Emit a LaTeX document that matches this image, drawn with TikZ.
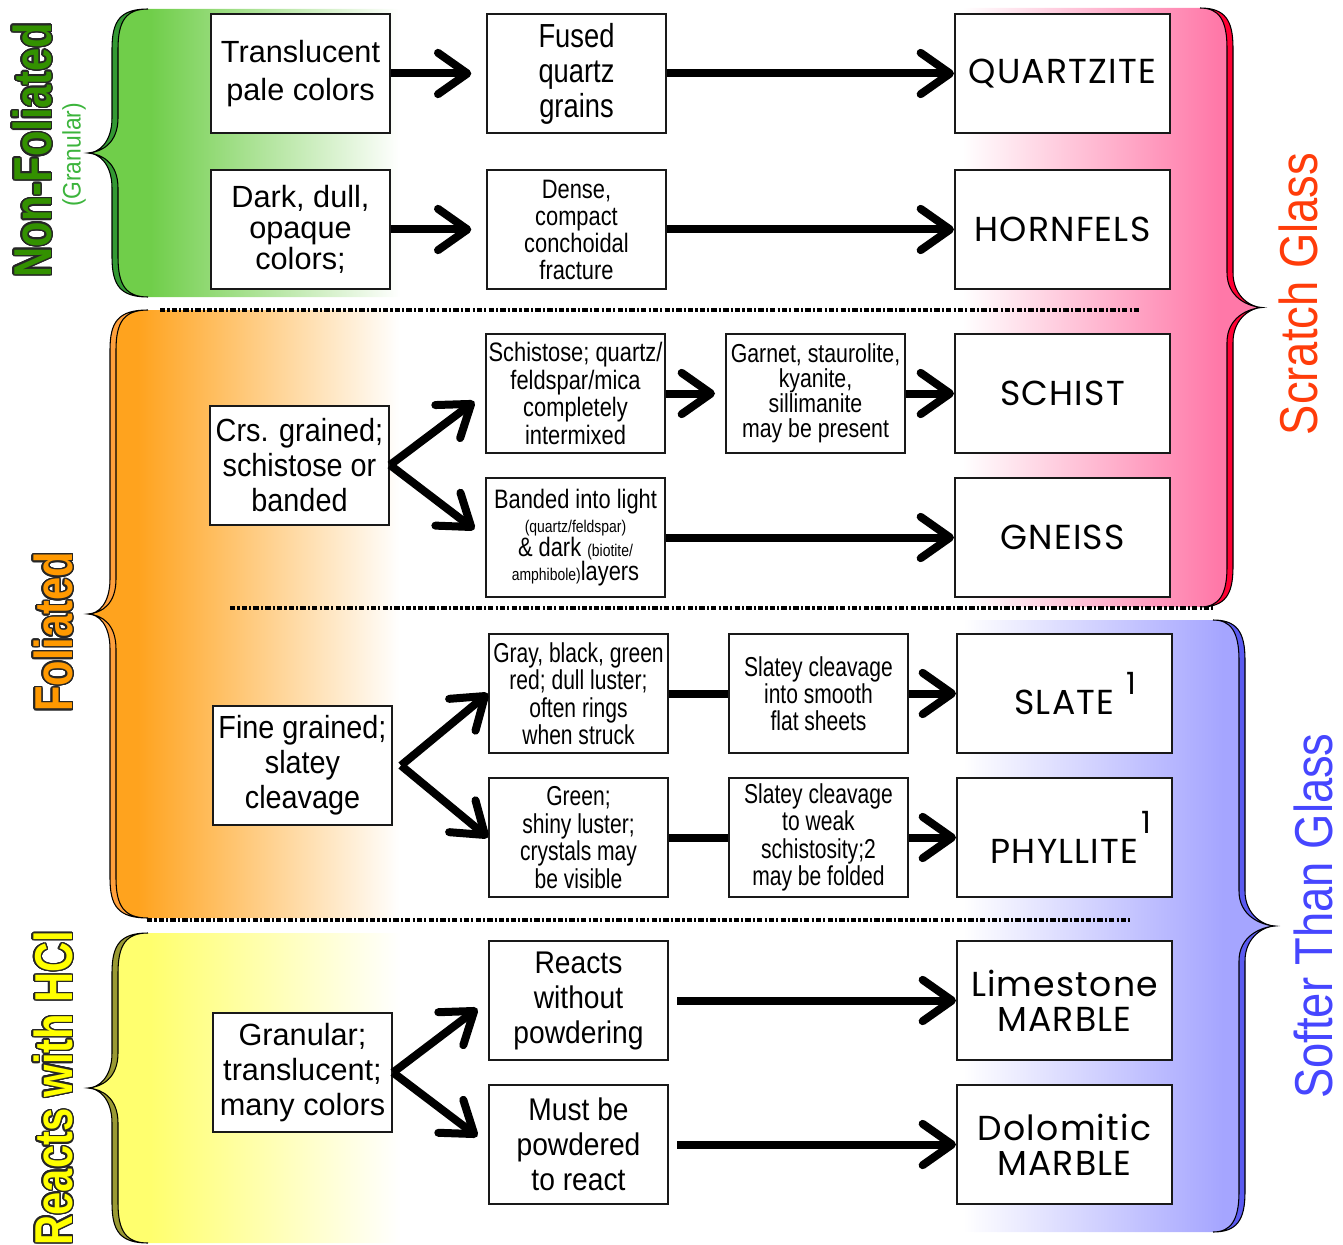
\documentclass[tikz,border=0pt]{standalone}
\usepackage{fontspec}
\setmainfont{Liberation Sans}
\newfontfamily\fA{Liberation Sans}
\newfontfamily\fB[FakeStretch=0.9]{Liberation Sans}
\newfontfamily\fC[FakeStretch=0.82]{Liberation Sans}
\newfontfamily\fD[FakeStretch=0.77]{Liberation Sans}
\newfontfamily\fG[FakeStretch=0.85]{Liberation Sans}
\newfontfamily\fL[FakeStretch=0.78]{Liberation Sans}
\newfontfamily\rockfont[LetterSpace=3.5]{Poppins}
\usepackage{contour}
\contourlength{1.1pt}
\contournumber{24}
\usetikzlibrary{arrows.meta}

\definecolor{gband}{RGB}{112,206,74}
\definecolor{gbrace}{RGB}{51,153,51}
\definecolor{oband}{RGB}{255,163,30}
\definecolor{obrace}{RGB}{255,160,60}
\definecolor{yband}{RGB}{255,255,110}
\definecolor{ybrace}{RGB}{153,153,51}
\definecolor{pband}{RGB}{255,120,168}
\definecolor{pbrace}{RGB}{255,0,51}
\definecolor{bband}{RGB}{165,165,255}
\definecolor{bbrace}{RGB}{90,90,240}
\definecolor{nftext}{RGB}{51,145,0}
\definecolor{grtext}{RGB}{60,180,60}
\definecolor{fotext}{RGB}{255,153,0}
\definecolor{hctext}{RGB}{255,255,0}
\definecolor{sgtext}{RGB}{255,60,10}
\definecolor{sttext}{RGB}{70,70,255}

\pgfdeclarehorizontalshading{gshade}{100bp}{color(0bp)=(gband); color(35bp)=(gband); color(75bp)=(white); color(100bp)=(white)}
\pgfdeclarehorizontalshading{oshade}{100bp}{color(0bp)=(oband); color(33bp)=(oband); color(75bp)=(white); color(100bp)=(white)}
\pgfdeclarehorizontalshading{yshade}{100bp}{color(0bp)=(yband); color(35bp)=(yband); color(75bp)=(white); color(100bp)=(white)}
\pgfdeclarehorizontalshading{pshade}{100bp}{color(0bp)=(white); color(27bp)=(white); color(68bp)=(pband); color(100bp)=(pband)}
\pgfdeclarehorizontalshading{bshade}{100bp}{color(0bp)=(white); color(27bp)=(white); color(67bp)=(bband); color(100bp)=(bband)}

\newcommand\fs[2]{\fontsize{#1}{#2}\selectfont}

% #1 end x, #2 spine x, #3 tip x, #4 top y, #5 bottom y, #6 shading, #7 brace colour
\newcommand\LeftGroup[7]{%
  \pgfmathsetmacro\bM{(#4+#5)/2}
  \shade[shading=#6] (#1,#4) .. controls (#2+8,#4) and (#2,#4+12) .. (#2,#4+40)
    -- (#2,\bM-35) .. controls (#2,\bM-10) and (#3+10,\bM) .. (#3,\bM)
    .. controls (#3+10,\bM) and (#2,\bM+10) .. (#2,\bM+35)
    -- (#2,#5-40) .. controls (#2,#5-12) and (#2+8,#5) .. (#1,#5)
    -- (400,#5) -- (400,#4) -- cycle;
  \filldraw[fill=#7, draw=black, line width=0.8pt] (#1,#4) .. controls (#2+8,#4) and (#2,#4+12) .. (#2,#4+40)
    -- (#2,\bM-35) .. controls (#2,\bM-10) and (#3+10,\bM) .. (#3,\bM)
    .. controls (#3+10,\bM) and (#2,\bM+10) .. (#2,\bM+35)
    -- (#2,#5-40) .. controls (#2,#5-12) and (#2+8,#5) .. (#1,#5)
    .. controls (#2+14,#5) and (#2+6,#5-12) .. (#2+6,#5-40)
    -- (#2+6,\bM+35) .. controls (#2+6,\bM+10) and (#3+14,\bM+1) .. (#3,\bM)
    .. controls (#3+14,\bM-1) and (#2+6,\bM-10) .. (#2+6,\bM-35)
    -- (#2+6,#4+40) .. controls (#2+6,#4+12) and (#2+14,#4) .. (#1,#4) -- cycle;
}
\newcommand\RightGroup[7]{%
  \pgfmathsetmacro\bM{(#4+#5)/2}
  \shade[shading=#6] (#1,#4) .. controls (#2-8,#4) and (#2,#4+12) .. (#2,#4+40)
    -- (#2,\bM-35) .. controls (#2,\bM-10) and (#3-10,\bM) .. (#3,\bM)
    .. controls (#3-10,\bM) and (#2,\bM+10) .. (#2,\bM+35)
    -- (#2,#5-40) .. controls (#2,#5-12) and (#2-8,#5) .. (#1,#5)
    -- (950,#5) -- (950,#4) -- cycle;
  \filldraw[fill=#7, draw=black, line width=0.8pt] (#1,#4) .. controls (#2-8,#4) and (#2,#4+12) .. (#2,#4+40)
    -- (#2,\bM-35) .. controls (#2,\bM-10) and (#3-10,\bM) .. (#3,\bM)
    .. controls (#3-10,\bM) and (#2,\bM+10) .. (#2,\bM+35)
    -- (#2,#5-40) .. controls (#2,#5-12) and (#2-8,#5) .. (#1,#5)
    .. controls (#2-14,#5) and (#2-6,#5-12) .. (#2-6,#5-40)
    -- (#2-6,\bM+35) .. controls (#2-6,\bM+10) and (#3-14,\bM+1) .. (#3,\bM)
    .. controls (#3-14,\bM-1) and (#2-6,\bM-10) .. (#2-6,\bM-35)
    -- (#2-6,#4+40) .. controls (#2-6,#4+12) and (#2-14,#4) .. (#1,#4) -- cycle;
}

\begin{document}
\begin{tikzpicture}[x=0.75pt, y=-0.75pt,
  box/.style={draw=black!90, line width=1.5pt, fill=white, minimum width=134.25pt,
    minimum height=89.25pt, inner sep=0pt, align=center},
  rock/.style={box, minimum width=161.25pt, font={\rockfont\fs{26}{26.25}}},
  arr/.style={line width=6pt, -{Straight Barb[length=22pt,width=31pt,round]}},
  bar/.style={line width=6pt},
  sep/.style={line width=2.4pt, dash pattern=on 4pt off 1.6pt on 1.6pt off 1.6pt},
  glabel/.style={rotate=90, inner sep=0pt, font={\fL\bfseries\fs{40}{40}}},
  hlabel/.style={rotate=90, inner sep=0pt, font={\fG\fs{40}{40}}}
]
\useasboundingbox (0,0) rectangle (1343,1245);

% bands and braces
\LeftGroup{148}{112}{88}{9}{297}{gshade}{gbrace}
\LeftGroup{148}{110}{88}{310}{918}{oshade}{obrace}
\LeftGroup{148}{112}{88}{933}{1243}{yshade}{ybrace}
\RightGroup{1200}{1233}{1262}{8}{607}{pshade}{pbrace}
\RightGroup{1213}{1245}{1275}{620}{1232}{bshade}{bbrace}

% separators
\draw[sep] (160,310) -- (1140,310);
\draw[sep] (230,608) -- (1215,608);
\draw[sep] (147,920) -- (1130,920);

% column 1
\node[box, font={\fA\fs{23}{29}}] (trans) at (300.5,73.5) {Translucent\\pale colors};
\node[box, font={\fA\fs{23}{23}}] (dark) at (300.5,229.5) {Dark, dull,\\opaque\\colors;};
\node[box, font={\fB\fs{24}{26.25}}] (crs) at (299.5,465) {Crs. grained;\\schistose or\\banded};
\node[box, font={\fB\fs{24}{26.25}}] (fine) at (302.5,765.5) {Fine grained;\\slatey\\cleavage};
\node[box, font={\fA\fs{23}{26.25}}] (gran) at (302.5,1072.5) {Granular;\\translucent;\\many colors};

% column 2
\node[box, font={\fC\fs{25}{26.25}}] (fused) at (576.5,73.5) {Fused\\quartz\\grains};
\node[box, font={\fC\fs{20}{20.25}}] (dense) at (576.5,229.5) {Dense,\\compact\\conchoidal\\fracture};
\node[box, font={\fC\fs{20}{20.6}}] (schistose) at (575.5,393.5) {Schistose; quartz/\\feldspar/mica\\completely\\intermixed};
\node[box, font={\fC\fs{20}{18}\lineskiplimit=-20pt}] (banded) at (575.5,537.5)
  {Banded into light\\{\fs{12.75}{18}(quartz/feldspar)}\\\& dark {\fs{12.75}{18}(biotite/}\\{\fs{12.75}{18}amphibole)}layers};
\node[box, font={\fD\fs{20.5}{20.6}}] (gray) at (578.5,693.5) {Gray, black, green\\red; dull luster;\\often rings\\when struck};
\node[box, font={\fD\fs{20.5}{20.6}}] (green) at (578.5,837.5) {Green;\\shiny luster;\\crystals may\\be visible};
\node[box, font={\fB\fs{23.5}{26.25}}] (reacts) at (578.5,1000.5) {Reacts\\without\\powdering};
\node[box, font={\fB\fs{23.5}{26.25}}] (must) at (578.5,1144.5) {Must be\\powdered\\to react};

% column 3
\node[box, font={\fC\fs{19.5}{18.75}}] (garnet) at (815.5,393.5) {Garnet, staurolite,\\kyanite,\\sillimanite\\may be present};
\node[box, font={\fD\fs{20.5}{20.25}}] (slatey1) at (818.5,693.5) {Slatey cleavage\\into smooth\\flat sheets};
\node[box, font={\fD\fs{20.5}{20.6}}] (slatey2) at (818.5,837.5) {Slatey cleavage\\to weak\\schistosity;2\\may be folded};

% rocks
\node[rock] (quartzite) at (1062.5,73.5) {QUARTZITE};
\node[rock] (hornfels) at (1062.5,229.5) {HORNFELS};
\node[rock] (schist) at (1062.5,393.5) {SCHIST};
\node[rock] (gneiss) at (1062.5,537.5) {GNEISS};
\node[rock] (slate) at (1064.5,693.5) {SLATE\rlap{\hspace{9pt}\raisebox{15pt}{\fs{23}{23}1}}};
\node[rock] (phyllite) at (1064.5,837.5) {PHYLLITE\rlap{\hspace{2pt}\raisebox{22pt}{\fs{23}{23}1}}};
\node[rock] (lime) at (1064.5,1000.5) {Limestone\\MARBLE};
\node[rock] (dolo) at (1064.5,1144.5) {Dolomitic\\MARBLE};

% connectors
\draw[arr, shorten >=11pt] (trans.east) -- (fused.west);
\draw[arr] (fused.east) -- (quartzite.west);
\draw[arr, shorten >=11pt] (dark.east) -- (dense.west);
\draw[arr] (dense.east) -- (hornfels.west);
\draw[arr, shorten >=10pt] (crs.east) -- (schistose.west);
\draw[arr, shorten >=10pt] (crs.east) -- (banded.west);
\draw[arr, shorten >=7.5pt] (schistose.east) -- (garnet.west);
\draw[arr] (garnet.east) -- (schist.west);
\draw[arr] (banded.east) -- (gneiss.west);
\draw[arr] ([xshift=6pt]fine.east) -- (gray.west);
\draw[arr] ([xshift=6pt]fine.east) -- (green.west);
\draw[bar] (gray.east) -- (slatey1.west);
\draw[arr] (slatey1.east) -- (slate.west);
\draw[bar] (green.east) -- (slatey2.west);
\draw[arr] (slatey2.east) -- (phyllite.west);
\draw[arr, shorten >=10pt] (gran.east) -- (reacts.west);
\draw[arr, shorten >=10pt] (gran.east) -- (must.west);
\draw[arr, shorten <=6pt] (reacts.east) -- (lime.west);
\draw[arr, shorten <=6pt] (must.east) -- (dolo.west);

% group labels
\node[glabel] (nonfol) at (33,150) {\textcolor{nftext}{\contour{black!85}{Non-Foliated}}};
\node[rotate=90, inner sep=0pt, font={\fB\fs{19}{19}}, text=grtext] (granular) at (74,155) {(Granular)};
\node[glabel] (fol) at (54,632) {\textcolor{fotext}{\contour{black!85}{Foliated}}};
\node[glabel] (hcl) at (54,1088) {\textcolor{hctext}{\contour{black!85}{Reacts with HCl}}};
\node[hlabel, text=sgtext] (scratch) at (1298,294) {Scratch Glass};
\node[hlabel, text=sttext] (softer) at (1313,916) {Softer Than Glass};
\end{tikzpicture}
\end{document}
